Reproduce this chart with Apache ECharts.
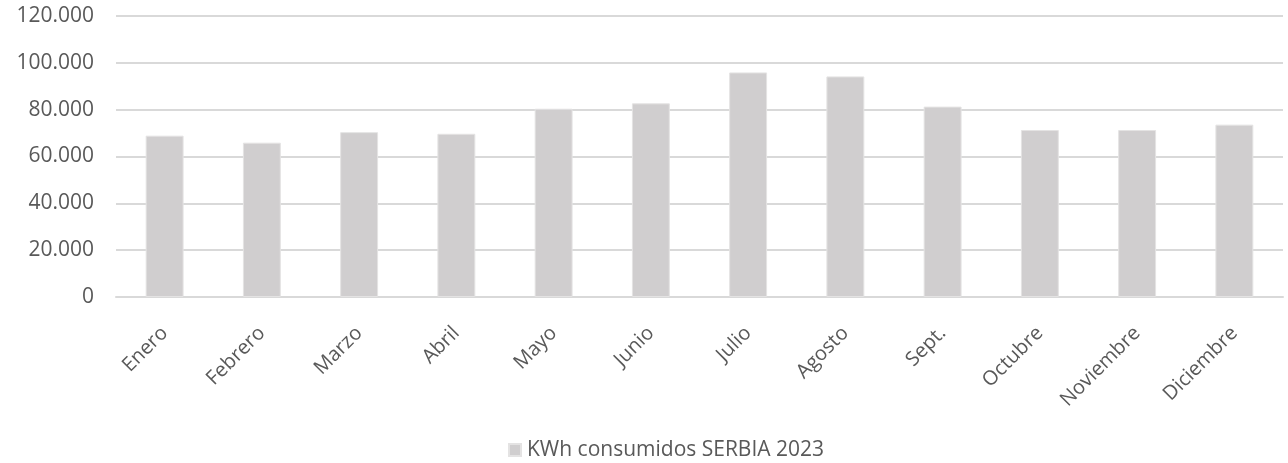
<!DOCTYPE html>
<html>
<head>
<meta charset="utf-8">
<script src="https://cdn.jsdelivr.net/npm/echarts@6/dist/echarts.min.js"></script>
<style>
html,body{margin:0;padding:0;background:#fff;}
#chart{width:1288px;height:463px;}
</style>
</head>
<body>
<div id="chart"></div>
<script>
const categories = ['Enero','Febrero','Marzo','Abril','Mayo','Junio','Julio','Agosto','Sept.','Octubre','Noviembre','Diciembre'];
const seriesName = 'KWh consumidos SERBIA 2023';
const values = [68900, 65900, 70400, 69700, 80400, 82700, 95900, 94200, 81300, 71300, 71300, 73600];
const yTicks = { min: 0, max: 120000, interval: 20000 };

function fmt(v){
  return String(v).replace(/\B(?=(\d{3})+(?!\d))/g, '.');
}

const chart = echarts.init(document.getElementById('chart'), null, {renderer:'canvas'});
const font = 'Open Sans';
chart.setOption({
  animation: false,
  backgroundColor: '#ffffff',
  grid: { left: 116, right: 5, top: 16, bottom: 166, containLabel: false },
  legend: {
    data: [seriesName],
    left: 508,
    top: 438,
    padding: 0,
    itemWidth: 12,
    itemHeight: 12,
    itemGap: 6,
    icon: 'rect',
    textStyle: { fontFamily: font, fontSize: 21, lineHeight: 24, color: '#595959', padding: [0,0,0,1] }
  },
  xAxis: {
    type: 'category',
    data: categories,
    axisLine: { show: true, lineStyle: { color: '#d9d9d9', width: 2 } },
    axisTick: { show: false },
    axisLabel: { rotate: 45, margin: 33, fontFamily: font, fontSize: 20, color: '#595959', interval: 0 }
  },
  yAxis: {
    type: 'value',
    min: yTicks.min,
    max: yTicks.max,
    interval: yTicks.interval,
    axisLine: { show: false },
    axisTick: { show: false },
    splitLine: { lineStyle: { color: '#d9d9d9', width: 2 } },
    axisLabel: { margin: 22, fontFamily: font, fontSize: 21, color: '#595959', formatter: fmt }
  },
  series: [{
    name: seriesName,
    type: 'bar',
    data: values,
    barWidth: '39%',
    itemStyle: { color: '#d0cecf', borderColor: '#e4e3e3', borderWidth: 1 }
  }]
});
</script>
</body>
</html>
